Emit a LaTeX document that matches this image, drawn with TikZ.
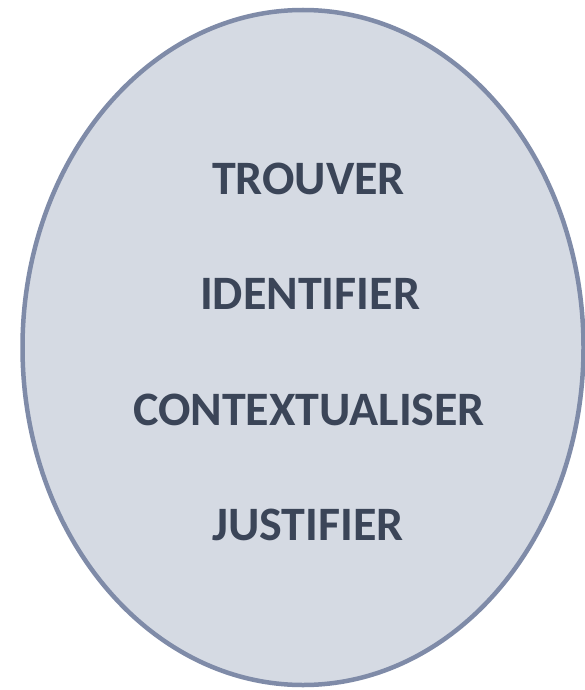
\documentclass[tikz,border=0pt]{standalone}
\usepackage{fontspec}
\setmainfont{Carlito}
\definecolor{ellfill}{HTML}{D5DAE3}
\definecolor{elldraw}{HTML}{7F8BA8}
\definecolor{txt}{HTML}{3B4558}
\begin{document}
\begin{tikzpicture}[x=1pt,y=-1pt,
  word/.style={anchor=base,text=txt,font=\fontsize{48}{50}\selectfont\bfseries,inner sep=0pt}]
\useasboundingbox (0,0) rectangle (584,690);
\path[fill=ellfill,draw=elldraw,line width=4.5pt] (303,347.5) ellipse [x radius=280.5, y radius=337.5];
\node[word] (trouver) at (308.5,194) {TROUVER};
\node[word] (identifier) at (310,309) {IDENTIFIER};
\node[word] (context) at (309,425) {CONTEXTUALISER};
\node[word] (justifier) at (308,540) {JUSTIFIER};
\end{tikzpicture}
\end{document}
